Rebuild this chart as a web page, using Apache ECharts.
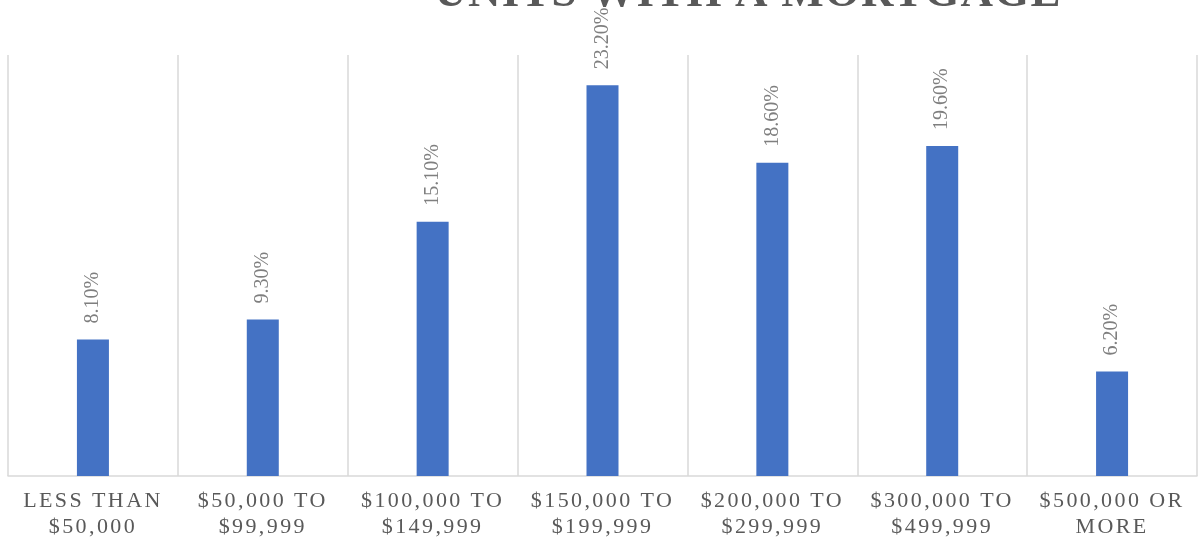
<!DOCTYPE html>
<html><head><meta charset="utf-8">
<script src="https://cdn.jsdelivr.net/npm/echarts@6/dist/echarts.min.js"></script>
<style>html,body{margin:0;padding:0;background:#fff}#c{width:1200px;height:542px}</style>
</head><body><div id="c"></div>
<script>
// letter spacing for specific font sizes (rendering style only)
(function(){
  const desc = Object.getOwnPropertyDescriptor(CanvasRenderingContext2D.prototype, 'font');
  if (!desc || !('letterSpacing' in CanvasRenderingContext2D.prototype)) return;
  Object.defineProperty(CanvasRenderingContext2D.prototype, 'font', {
    configurable: true,
    get() { return desc.get.call(this); },
    set(v) {
      desc.set.call(this, v);
      this.letterSpacing = /\b22px/.test(v) ? '2.4px' : (/\b45px/.test(v) ? '1.2px' : '0px');
    }
  });
})();

const titleText = 'UNITS WITH A MORTGAGE';
const categories = ['LESS THAN\n$50,000', '$50,000 TO\n$99,999', '$100,000 TO\n$149,999', '$150,000 TO\n$199,999', '$200,000 TO\n$299,999', '$300,000 TO\n$499,999', '$500,000 OR\nMORE'];
const values = [8.1, 9.3, 15.1, 23.2, 18.6, 19.6, 6.2];

const chart = echarts.init(document.getElementById('c'), null, {renderer: 'canvas'});
chart.setOption({
  animation: false,
  backgroundColor: '#fff',
  graphic: [{
    type: 'text', x: 748, y: -6,
    style: {text: titleText, fill: '#595959', font: 'bold 45px "Liberation Serif", "Times New Roman", serif', textAlign: 'center', textVerticalAlign: 'middle'}
  }],
  grid: {left: 8, right: 3, top: 55, bottom: 66, containLabel: false},
  xAxis: {
    type: 'category', data: categories, boundaryGap: true,
    axisLine: {show: true, lineStyle: {color: '#d9d9d9', width: 1.5}},
    axisTick: {show: false},
    splitLine: {show: true, lineStyle: {color: '#d9d9d9', width: 1.5}},
    axisLabel: {interval: 0, color: '#595959', fontFamily: '"Liberation Serif", serif', fontSize: 22, lineHeight: 26, margin: 12}
  },
  yAxis: {type: 'value', min: 0, max: 25, show: false, splitLine: {show: false}},
  series: [{
    type: 'bar', data: values, barWidth: 32,
    itemStyle: {color: '#4472C4'},
    label: {show: true, position: 'top', rotate: 90, align: 'left', verticalAlign: 'middle', distance: 16,
      color: '#7f7f7f', fontFamily: '"Liberation Serif", serif', fontSize: 20,
      formatter: p => p.value.toFixed(2) + '%'}
  }]
});
</script></body></html>
